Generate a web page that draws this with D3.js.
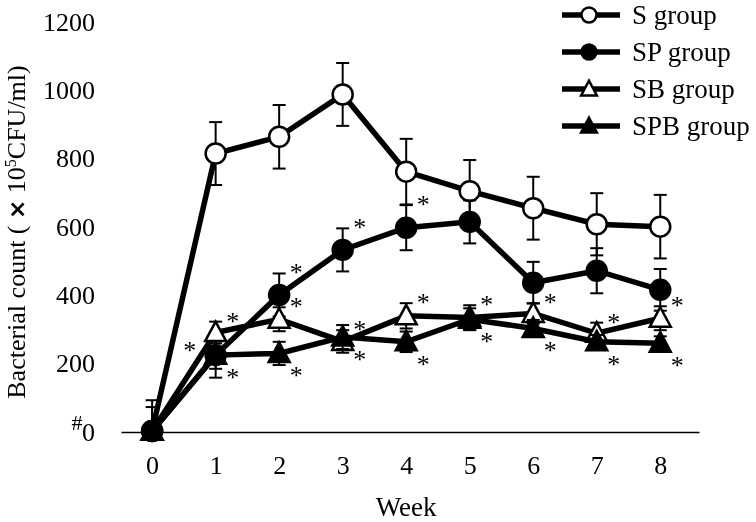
<!DOCTYPE html>
<html><head><meta charset="utf-8">
<script src="https://cdn.jsdelivr.net/npm/d3@7"></script>
<style>body{margin:0;background:#fff}svg{display:block;will-change:transform}text{fill:#000}</style>
</head><body><svg id="c" width="756" height="522"></svg>
<script>
const weeks = [0,1,2,3,4,5,6,7,8];
const yTicks = [0,200,400,600,800,1000,1200];
const seriesNames = ["S group","SP group","SB group","SPB group"];
const sMean   = [3, 815, 864, 988, 762, 705, 655, 608, 601];
const sErr    = [90, 92, 93, 92, 96, 91, 92, 91, 93];
const spMean  = [3, 225, 401, 533, 598, 615, 437, 472, 416];
const spErr   = [70, 66, 63, 63, 66, 63, 61, 66, 61];
const sbMean  = [2, 291, 330, 265, 340, 335, 347, 289, 333];
const sbErr   = [10, 32, 35, 33, 37, 36, 30, 31, 35];
const spbMean = [2, 225, 230, 278, 264, 330, 303, 264, 260];
const spbErr  = [10, 40, 34, 35, 30, 32, 25, 20, 20];
// significance marks: "" none, "left", "above", "below"
const spSig  = ["", "left", "above", "above", "above", "", "", "", ""];
const sbSig  = ["", "above", "above", "above", "above", "above", "above", "above", "above"];
const spbSig = ["", "below", "below", "below", "below", "below", "below", "below", "below"];

const series = [
  {name: seriesNames[0], mean: sMean,  err: sErr,  sig: null,   shape: "circle",   fill: "#fff"},
  {name: seriesNames[1], mean: spMean, err: spErr, sig: spSig,  shape: "circle",   fill: "#000"},
  {name: seriesNames[2], mean: sbMean, err: sbErr, sig: sbSig,  shape: "triangle", fill: "#fff"},
  {name: seriesNames[3], mean: spbMean,err: spbErr,sig: spbSig, shape: "triangle", fill: "#000"}
];

const FONT = "'Liberation Serif','Times New Roman',serif";
const svg = d3.select("#c");
const x = d3.scaleLinear().domain([-0.49, 8.61]).range([121, 699]);
const y = d3.scaleLinear().domain([0, 1200]).range([432, 22]);

// X axis
const xa = svg.append("g").attr("transform", `translate(0,${y(0)})`)
  .call(d3.axisBottom(x).tickValues(weeks).tickSize(0).tickPadding(24).tickFormat(d3.format("d")));
xa.select(".domain").attr("stroke", "#000").attr("stroke-width", 1.6);
xa.selectAll("text").attr("font-family", FONT).attr("font-size", 26).attr("fill", "#000");

// Y axis (labels only)
const ya = svg.append("g").attr("transform", `translate(${x(-0.49)},0)`)
  .call(d3.axisLeft(y).tickValues(yTicks).tickSize(0).tickPadding(26).tickFormat(d3.format("d")));
ya.select(".domain").remove();
ya.selectAll("text").attr("font-family", FONT).attr("font-size", 26).attr("fill", "#000");

svg.append("text").attr("x", 77).attr("y", y(0) - 2).attr("text-anchor", "middle")
  .attr("font-family", FONT).attr("font-size", 22).text("#");

// Axis titles
svg.append("text").attr("x", x(4)).attr("y", 516).attr("text-anchor", "middle")
  .attr("font-family", FONT).attr("font-size", 27).text("Week");
const yt = svg.append("text").attr("transform", "translate(25,232) rotate(-90)")
  .attr("text-anchor", "middle").attr("font-family", FONT).attr("font-size", 26);
yt.append("tspan").text("Bacterial count ( ");
yt.append("tspan").attr("font-family", "'DejaVu Sans',sans-serif").attr("font-weight", "bold").attr("font-size", 23).text("×");
yt.append("tspan").text(" 10");
yt.append("tspan").attr("font-size", 16).attr("dy", -9).text("5");
yt.append("tspan").attr("dy", 9).text("CFU/ml)");

function marker(g, shape, fill, cx, cy, s) {
  if (shape === "circle") {
    g.append("circle").attr("cx", cx).attr("cy", cy).attr("r", 10 * s)
      .attr("fill", fill).attr("stroke", "#000").attr("stroke-width", 2.5);
  } else {
    const w = 10.5 * s, top = 11 * s, bot = 8.5 * s;
    g.append("path").attr("d", `M${cx},${cy - top}L${cx + w},${cy + bot}L${cx - w},${cy + bot}Z`)
      .attr("fill", fill).attr("stroke", "#000").attr("stroke-width", 2.5).attr("stroke-linejoin", "miter");
  }
}

const line = d3.line().x((d, i) => x(weeks[i])).y(d => y(d));
series.forEach(s => {
  const g = svg.append("g");
  weeks.forEach((w, i) => {
    const cx = x(w), y1 = y(s.mean[i] + s.err[i]), y2 = y(Math.max(s.mean[i] - s.err[i], 0));
    g.append("line").attr("x1", cx).attr("x2", cx).attr("y1", y1).attr("y2", y2).attr("stroke", "#000").attr("stroke-width", 2);
    [y1, y2].forEach(yy => g.append("line").attr("x1", cx - 6.5).attr("x2", cx + 6.5).attr("y1", yy).attr("y2", yy)
      .attr("stroke", "#000").attr("stroke-width", 2));
  });
  g.append("path").datum(s.mean).attr("d", line).attr("fill", "none")
    .attr("stroke", "#000").attr("stroke-width", 5.5).attr("stroke-linejoin", "miter");
  weeks.forEach((w, i) => marker(g, s.shape, s.fill, x(w), y(s.mean[i]), 1));
});

// significance stars
const stars = svg.append("g").attr("opacity", 0.999);
series.forEach(s => {
  if (!s.sig) return;
  weeks.forEach((w, i) => {
    const side = s.sig[i];
    if (!side) return;
    let sx = x(w) + 17, sy;
    if (side === "above") sy = y(s.mean[i] + s.err[i]) - 3;
    else if (side === "below") sy = y(s.mean[i]) + 20;
    else { sx = x(w) - 26; sy = y(s.mean[i]) - 7; }
    stars.append("text").attr("x", sx).attr("y", sy + 11).attr("text-anchor", "middle")
      .attr("font-family", FONT).attr("font-size", 26).attr("fill", "#000").text("*");
  });
});

// legend
const lg = svg.append("g");
series.forEach((s, i) => {
  const ly = 15 + i * 37;
  lg.append("line").attr("x1", 562).attr("x2", 620).attr("y1", ly).attr("y2", ly)
    .attr("stroke", "#000").attr("stroke-width", 5.5);
  marker(lg, s.shape, s.fill, 589, ly, 0.75);
  lg.append("text").attr("x", 632).attr("y", ly + 9).attr("font-family", FONT)
    .attr("font-size", 27).text(s.name);
});
</script></body></html>
